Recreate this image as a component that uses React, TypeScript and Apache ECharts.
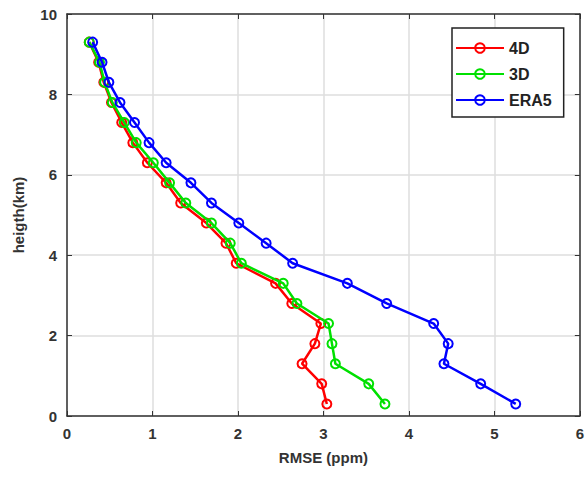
import React, { useEffect, useRef } from "react";
import * as echarts from "echarts";

const heights = [0.3, 0.8, 1.3, 1.8, 2.3, 2.8, 3.3, 3.8, 4.3, 4.8, 5.3, 5.8, 6.3, 6.8, 7.3, 7.8, 8.3, 8.8, 9.3];
const rmse4D = [3.04, 2.98, 2.75, 2.9, 2.97, 2.63, 2.44, 1.98, 1.86, 1.63, 1.33, 1.16, 0.94, 0.77, 0.64, 0.52, 0.43, 0.37, 0.26];
const rmse3D = [3.72, 3.53, 3.14, 3.1, 3.06, 2.69, 2.53, 2.04, 1.91, 1.69, 1.39, 1.2, 1.01, 0.81, 0.67, 0.53, 0.44, 0.38, 0.26];
const rmseERA5 = [5.25, 4.84, 4.41, 4.46, 4.29, 3.74, 3.28, 2.64, 2.33, 2.01, 1.69, 1.45, 1.16, 0.96, 0.79, 0.62, 0.49, 0.41, 0.3];
const seriesNames = ["4D", "3D", "ERA5"];
const seriesColors = ["#ff0000", "#00e000", "#0000ff"];

export default function App() {
  const ref = useRef<HTMLDivElement>(null);
  useEffect(() => {
    if (!ref.current) return;
    const chart = echarts.init(ref.current, null, { renderer: "svg" });
    const values = [rmse4D, rmse3D, rmseERA5];
    const font = "Liberation Sans, Arial, sans-serif";
    chart.setOption({
      animation: false,
      backgroundColor: "#ffffff",
      grid: { left: 67, right: 7, top: 14, bottom: 65, containLabel: false },
      legend: {
        orient: "vertical",
        left: 452,
        top: 28,
        padding: [12, 12, 9, 3],
        itemWidth: 48,
        itemHeight: 12,
        itemGap: 10,
        borderColor: "#222",
        borderWidth: 1.5,
        backgroundColor: "#fff",
        textStyle: { fontSize: 16, fontWeight: "bold", color: "#222", fontFamily: font, lineHeight: 16 },
        data: seriesNames,
      },
      xAxis: [
        {
          type: "value",
          min: 0,
          max: 6,
          interval: 1,
          name: "RMSE (ppm)",
          nameLocation: "middle",
          nameGap: 34,
          nameTextStyle: { fontSize: 15, fontWeight: "bold", color: "#333", fontFamily: font },
          axisLine: { show: true, onZero: false, lineStyle: { color: "#333", width: 1.5 } },
          axisTick: { show: true, inside: true, length: 5, lineStyle: { color: "#333" } },
          axisLabel: { fontSize: 15, color: "#333", fontWeight: "bold", margin: 10, fontFamily: font },
          splitLine: { show: true, lineStyle: { color: "#dedede", width: 1.5 } },
        },
        {
          type: "value",
          position: "top",
          min: 0,
          max: 6,
          interval: 1,
          axisLine: { show: true, onZero: false, lineStyle: { color: "#333", width: 1.5 } },
          axisTick: { show: true, inside: true, length: 5, lineStyle: { color: "#333" } },
          axisLabel: { show: false },
          splitLine: { show: false },
        },
      ],
      yAxis: [
        {
          type: "value",
          min: 0,
          max: 10,
          interval: 2,
          name: "heigth(km)",
          nameLocation: "middle",
          nameGap: 41,
          nameRotate: 90,
          nameTextStyle: { fontSize: 15, fontWeight: "bold", color: "#333", fontFamily: font },
          axisLine: { show: true, onZero: false, lineStyle: { color: "#333", width: 1.5 } },
          axisTick: { show: true, inside: true, length: 5, lineStyle: { color: "#333" } },
          axisLabel: { fontSize: 15, color: "#333", fontWeight: "bold", margin: 10, fontFamily: font },
          splitLine: { show: true, lineStyle: { color: "#dedede", width: 1.5 } },
        },
        {
          type: "value",
          position: "right",
          min: 0,
          max: 10,
          interval: 2,
          axisLine: { show: true, onZero: false, lineStyle: { color: "#333", width: 1.5 } },
          axisTick: { show: true, inside: true, length: 5, lineStyle: { color: "#333" } },
          axisLabel: { show: false },
          splitLine: { show: false },
        },
      ],
      series: seriesNames.map((name, i) => ({
        name,
        type: "line",
        xAxisIndex: 0,
        yAxisIndex: 0,
        data: values[i].map((v, j) => [v, heights[j]]),
        symbol: "circle",
        symbolSize: 9,
        showSymbol: true,
        color: seriesColors[i],
        lineStyle: { color: seriesColors[i], width: 2.5 },
        itemStyle: { color: "#ffffff00", borderColor: seriesColors[i], borderWidth: 2 },
        z: 3 + i,
      })),
    });
    return () => chart.dispose();
  }, []);
  return <div ref={ref} style={{ width: 587, height: 481, position: "absolute", left: 0, top: 0 }} />;
}
